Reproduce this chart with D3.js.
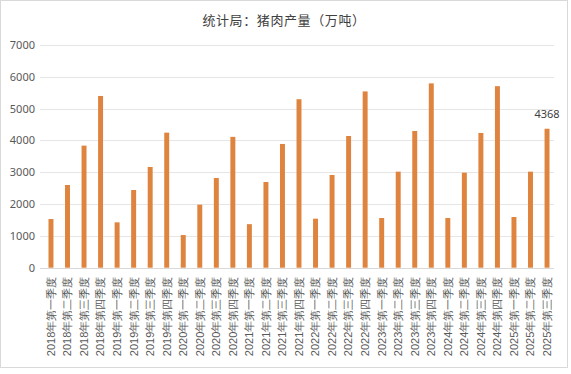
<!DOCTYPE html>
<html>
<head>
<meta charset="utf-8">
<script src="https://cdn.jsdelivr.net/npm/d3@7"></script>
<style>
  html, body { margin: 0; padding: 0; background: #fff; }
  svg { display: block; font-family: "Noto Sans CJK SC", "Noto Sans", sans-serif; }
</style>
</head>
<body>
<div id="container"></div>
<script>
const width = 571;
const height = 374;

const title = "统计局：猪肉产量（万吨）";
const years = ["2018", "2019", "2020", "2021", "2022", "2023", "2024", "2025"];
const quarters = ["第一季度", "第二季度", "第三季度", "第四季度"];
const output = [
  1530, 2600, 3837, 5398,
  1426, 2442, 3166, 4245,
  1027, 1981, 2820, 4113,
  1369, 2694, 3889, 5296,
  1541, 2914, 4140, 5541,
  1562, 3019, 4298, 5794,
  1562, 2987, 4235, 5706,
  1593, 3019, 4368
];
const yTicks = [0, 1000, 2000, 3000, 4000, 5000, 6000, 7000];

// categories: 2018年第一季度 ... 2025年第三季度
const categories = [];
years.forEach(y => quarters.forEach(q => categories.push(y + "年" + q)));
const data = output.map((v, i) => ({ label: categories[i], value: v }));

const svg = d3.select("#container").append("svg")
  .attr("width", width)
  .attr("height", height);

svg.append("rect")
  .attr("x", 0.5).attr("y", 0.5)
  .attr("width", 567).attr("height", 367)
  .attr("fill", "#fff")
  .attr("stroke", "#d9d9d9");

svg.append("text")
  .attr("x", 284)
  .attr("y", 25)
  .attr("text-anchor", "middle")
  .attr("font-size", 13)
  .attr("letter-spacing", 0.6)
  .attr("fill", "#404040")
  .text(title);

//----------------------------SCALES----------------------------//
const x = d3.scaleBand()
  .domain(data.map(d => d.label))
  .range([42.7, 555.3])
  .paddingInner(0.7)
  .paddingOuter(0.35);

const y = d3.scaleLinear()
  .domain([0, 7000])
  .range([267.7, 45]);

//-----------------------------GRID-----------------------------//
svg.append("g")
  .selectAll("line")
  .data(yTicks)
  .join("line")
  .attr("x1", 40).attr("x2", 554)
  .attr("y1", d => Math.round(y(d)) + 0.5)
  .attr("y2", d => Math.round(y(d)) + 0.5)
  .attr("stroke", d => d === 0 ? "#d9d9d9" : "#e6e6e6");

//-----------------------------AXES-----------------------------//
const yaxis = svg.append("g")
  .attr("transform", "translate(35,0)")
  .call(d3.axisLeft(y).tickValues(yTicks).tickFormat(d3.format("d")).tickSize(0).tickPadding(0));
yaxis.select(".domain").remove();
yaxis.selectAll("text")
  .attr("font-size", 11)
  .attr("fill", "#595959")
  .attr("font-family", "\"Noto Sans\", sans-serif");

const xaxis = svg.append("g")
  .attr("transform", "translate(0,267.7)")
  .call(d3.axisBottom(x).tickSize(0).tickPadding(0));
xaxis.select(".domain").remove();
xaxis.selectAll("text")
  .attr("transform", "rotate(-90)")
  .attr("text-anchor", "end")
  .attr("x", -9)
  .attr("y", 0)
  .attr("dy", "0.35em")
  .attr("font-size", 11)
  .attr("fill", "#595959");

//----------------------------BARS-----------------------------//
svg.append("g")
  .selectAll("rect")
  .data(data)
  .join("rect")
  .attr("x", d => x(d.label))
  .attr("width", x.bandwidth())
  .attr("y", d => y(d.value))
  .attr("height", d => y(0) - y(d.value))
  .attr("fill", "#df843f");

const last = data[data.length - 1];
svg.append("text")
  .attr("x", x(last.label) + x.bandwidth() / 2)
  .attr("y", y(last.value) - 11)
  .attr("text-anchor", "middle")
  .attr("font-size", 11)
  .attr("fill", "#404040")
  .attr("font-family", "\"Noto Sans\", sans-serif")
  .text(last.value);
</script>
</body>
</html>
